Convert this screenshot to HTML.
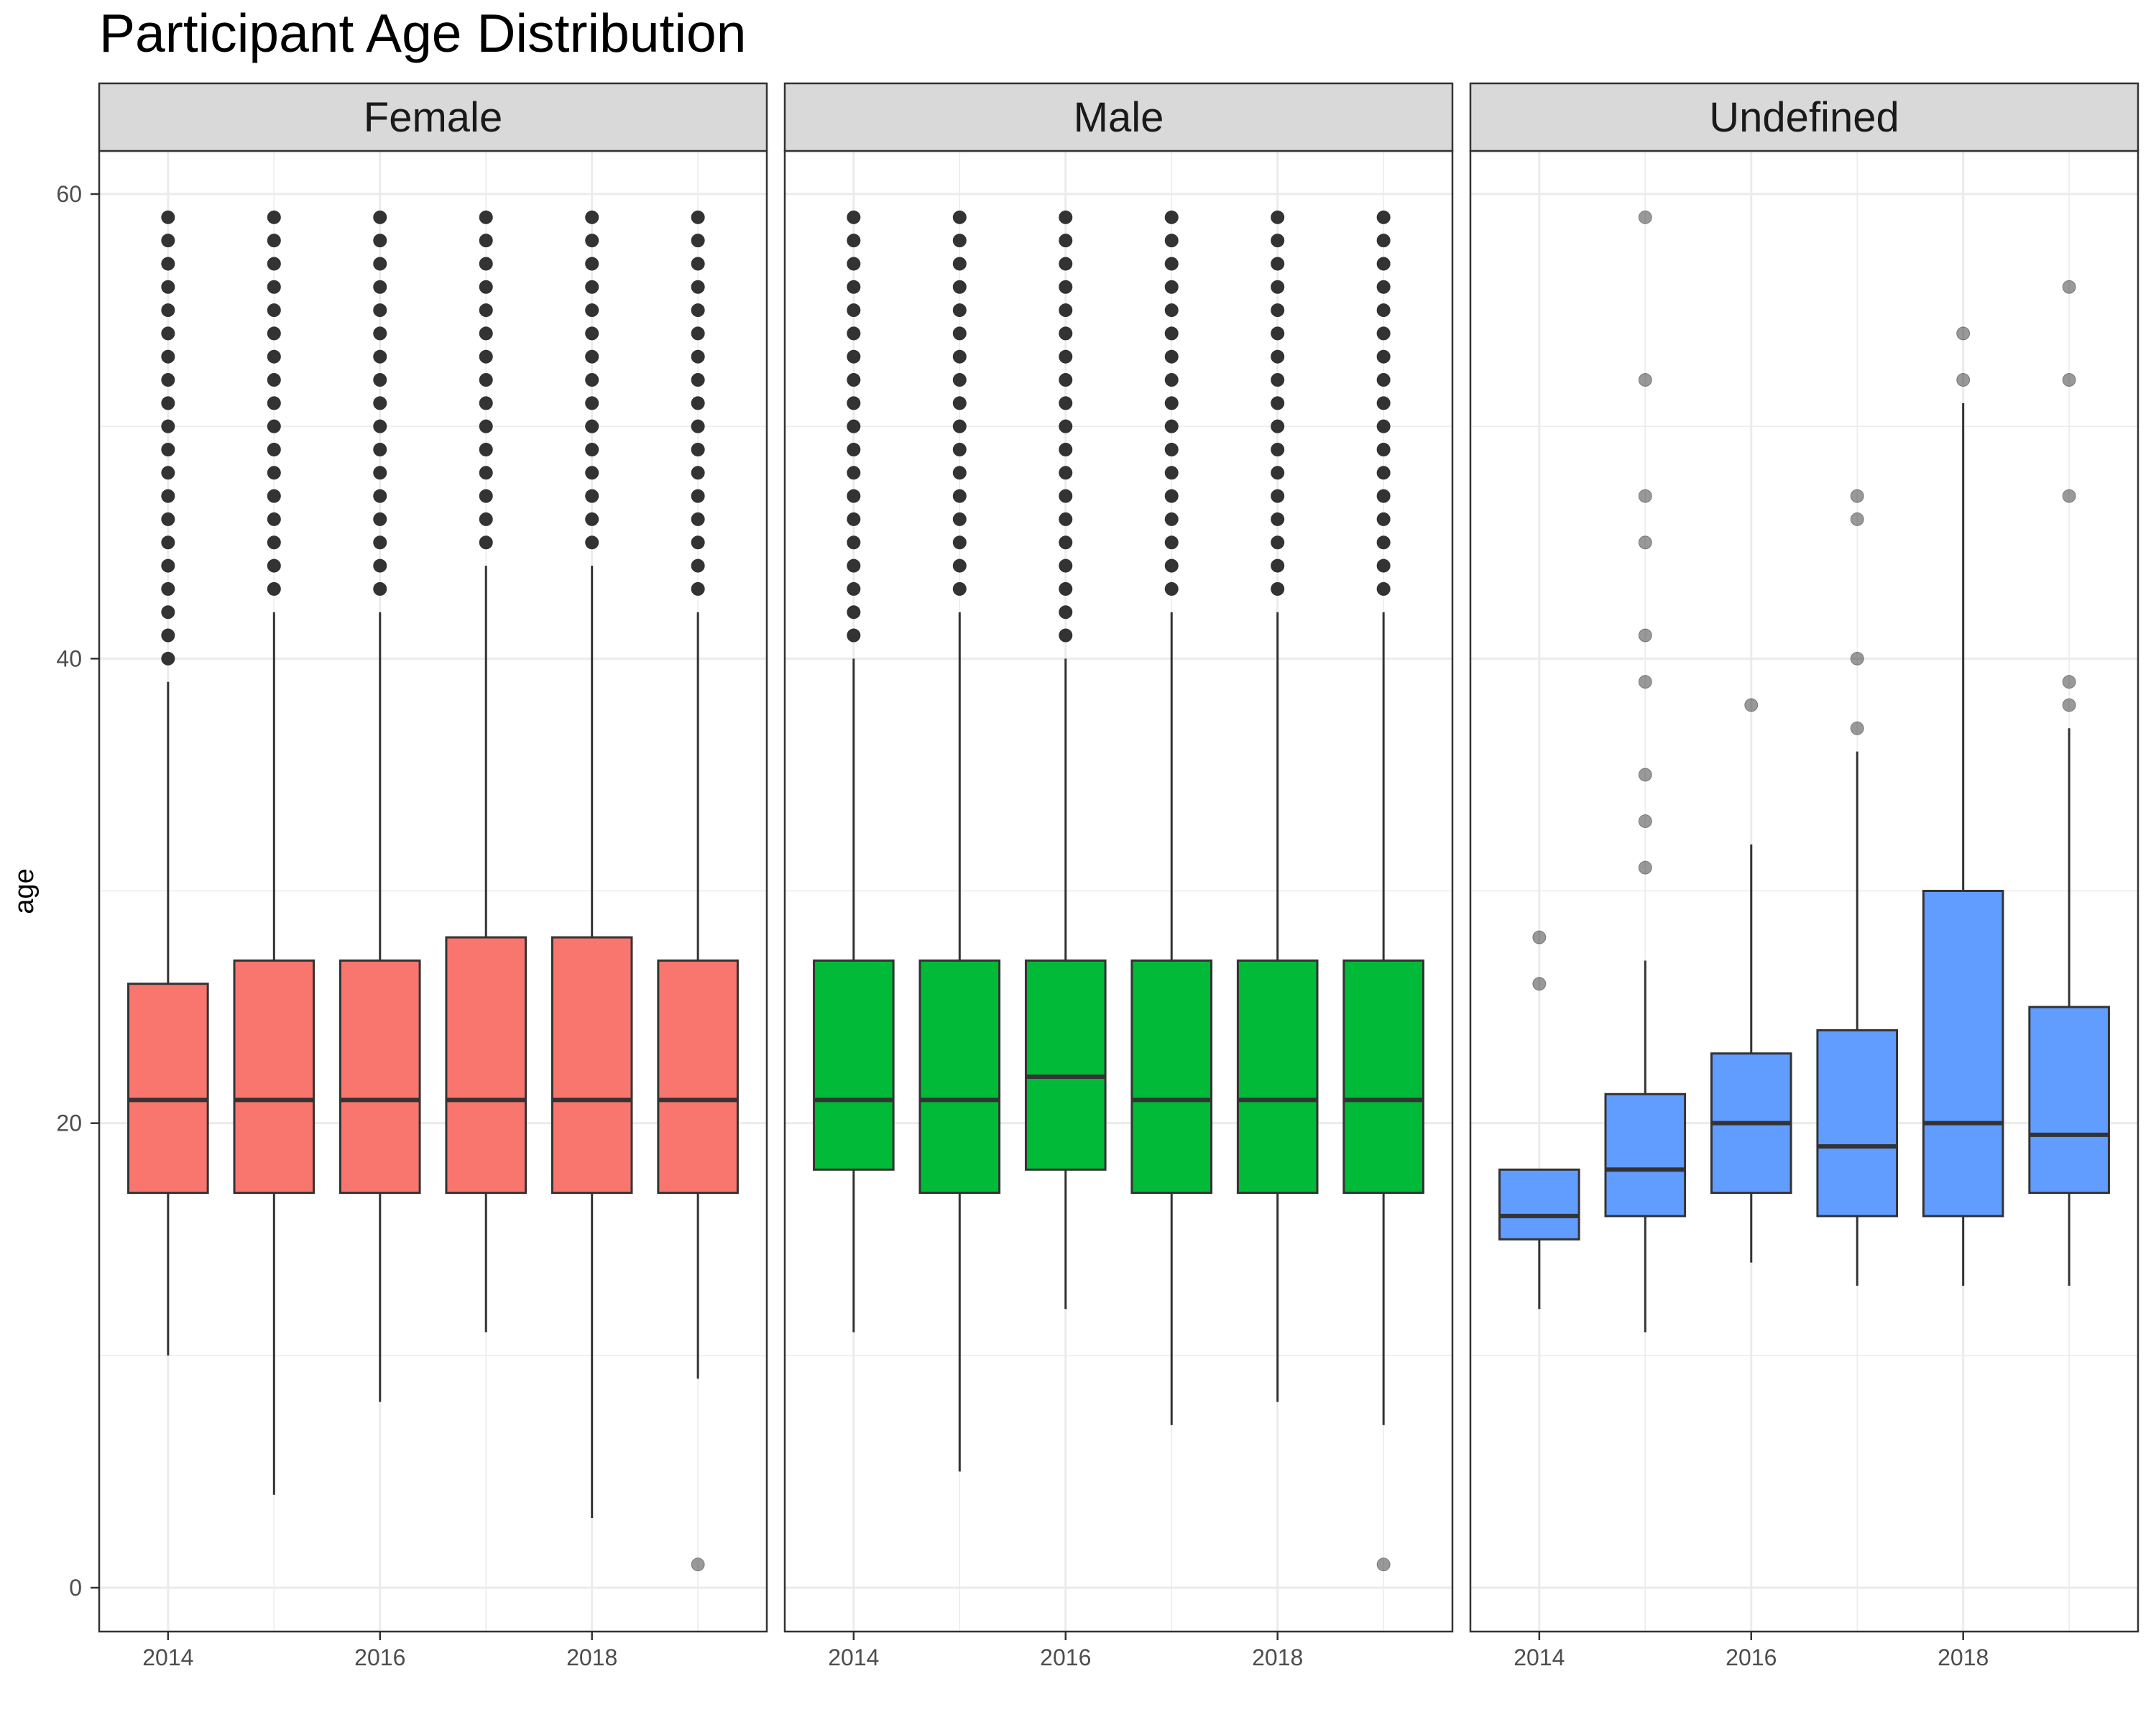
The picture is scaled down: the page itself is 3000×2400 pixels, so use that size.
<!DOCTYPE html>
<html><head><meta charset="utf-8"><style>
html,body{margin:0;padding:0;background:#fff;}
svg{display:block;font-family:"Liberation Sans",Arial,sans-serif;}
</style></head><body>
<svg id="chart" width="3000" height="2400" viewBox="0 0 3000 2400" xmlns="http://www.w3.org/2000/svg">
<rect width="3000" height="2400" fill="#fff"/>
<text x="138" y="72" font-size="75" fill="#000">Participant Age Distribution</text>
<text transform="translate(46,1240) rotate(-90)" text-anchor="middle" font-size="38" fill="#000">age</text>
<g id="plot"></g>
</svg>
<script>
const panels = ["Female","Male","Undefined"];
const colors = ["#F8766D","#00BA38","#619CFF"];
const years = [2014,2015,2016,2017,2018,2019];
const yTicks = [0,20,40,60];
const xTickLabels = [2014,2016,2018];
// [lower whisker, Q1, median, Q3, upper whisker]
const femaleStats = [[10,17,21,26,39],[4,17,21,27,42],[8,17,21,27,42],[11,17,21,28,44],[3,17,21,28,44],[9,17,21,27,42]];
const maleStats = [[11,18,21,27,40],[5,17,21,27,42],[12,18,22,27,40],[7,17,21,27,42],[8,17,21,27,42],[7,17,21,27,42]];
const undefStats = [[12,15,16,18,18],[11,16,18,21.25,27],[14,17,20,23,32],[13,16,19,24,36],[13,16,20,30,51],[13,17,19.5,25,37]];
function rng(a,b){const r=[];for(let v=a;v<=b;v++)r.push(v);return r;}
const femaleOut = [rng(40,59),rng(43,59),rng(43,59),rng(45,59),rng(45,59),[1].concat(rng(43,59))];
const maleOut = [rng(41,59),rng(43,59),rng(41,59),rng(43,59),rng(43,59),[1].concat(rng(43,59))];
const undefOut = [[26,28],[31,33,35,39,41,45,47,52,59],[38],[37,40,46,47],[52,54],[38,39,47,52,56]];
const allStats=[femaleStats,maleStats,undefStats];
const allOut=[femaleOut,maleOut,undefOut];

const NS="http://www.w3.org/2000/svg";
const plot=document.getElementById('plot');
const panelX=[138,1092,2046], panelW=929, panelTop=210, panelBottom=2270, stripTop=116;
const yPix=v=>2209-(v*(2209-270)/60);
const xMin=2013.35, xMax=2019.65;
function el(tag,attrs,parent){const e=document.createElementNS(NS,tag);for(const k in attrs)e.setAttribute(k,attrs[k]);(parent||plot).appendChild(e);return e;}

panels.forEach((name,pi)=>{
  const px=panelX[pi];
  const xPix=yr=>px+(yr-xMin)/(xMax-xMin)*panelW;
  const g=el('g',{});
  
  
  el('rect',{x:px,y:panelTop,width:panelW,height:panelBottom-panelTop,fill:'#fff'},g);
  [10,30,50].forEach(v=>{el('line',{x1:px,x2:px+panelW,y1:yPix(v),y2:yPix(v),stroke:'#EBEBEB','stroke-width':1.5},g);});
  yTicks.forEach(v=>{const l=el('line',{x1:px,x2:px+panelW,y1:yPix(v),y2:yPix(v),stroke:'#EBEBEB','stroke-width':3},g);
    
    });
  years.forEach(yr=>{const major=xTickLabels.includes(yr);
    el('line',{x1:xPix(yr),x2:xPix(yr),y1:panelTop,y2:panelBottom,stroke:'#EBEBEB','stroke-width':major?3:1.5},g);});
  const stats=allStats[pi], outs=allOut[pi], bw=0.75*(panelW/(xMax-xMin));
  years.forEach((yr,i)=>{
    const s=stats[i], cx=xPix(yr);
    const bg=el('g',{},g);
    
    
    el('line',{x1:cx,x2:cx,y1:yPix(s[0]),y2:yPix(s[1]),stroke:'#333','stroke-width':3},bg);
    el('line',{x1:cx,x2:cx,y1:yPix(s[3]),y2:yPix(s[4]),stroke:'#333','stroke-width':3},bg);
    el('rect',{x:cx-bw/2,y:yPix(s[3]),width:bw,height:yPix(s[1])-yPix(s[3]),fill:colors[pi],stroke:'#333','stroke-width':3},bg);
    el('line',{x1:cx-bw/2,x2:cx+bw/2,y1:yPix(s[2]),y2:yPix(s[2]),stroke:'#333','stroke-width':6},bg);
    outs[i].forEach(v=>{
      const dense = pi<2 && v>5;
      const c=el('circle',{cx:cx,cy:yPix(v),r:9,fill:'#333','fill-opacity':dense?1:0.5,stroke:'#333','stroke-opacity':dense?1:0.5,'stroke-width':1},bg);
      
      
    });
  });
  el('rect',{x:px,y:panelTop,width:panelW,height:panelBottom-panelTop,fill:'none',stroke:'#333','stroke-width':2.5},g);
  const st=el('rect',{x:px,y:stripTop,width:panelW,height:panelTop-stripTop,fill:'#D9D9D9',stroke:'#333','stroke-width':2.5},g);
  
  
  const t=el('text',{x:px+panelW/2,y:183,'text-anchor':'middle','font-size':58,fill:'#1A1A1A'},g);
  t.textContent=name;
  
  
  xTickLabels.forEach(yr=>{
    el('line',{x1:xPix(yr),x2:xPix(yr),y1:panelBottom,y2:panelBottom+12,stroke:'#333','stroke-width':2.5},g);
    const tl=el('text',{x:xPix(yr),y:2317,'text-anchor':'middle','font-size':32,fill:'#4D4D4D'},g);
    tl.textContent=yr;
    
    
  });
});
yTicks.forEach(v=>{
  el('line',{x1:126,x2:138,y1:yPix(v),y2:yPix(v),stroke:'#333','stroke-width':2.5});
  const tl=el('text',{x:114,y:yPix(v)+11,'text-anchor':'end','font-size':32,fill:'#4D4D4D'});
  tl.textContent=v;
  
  
});
</script>
</body></html>
